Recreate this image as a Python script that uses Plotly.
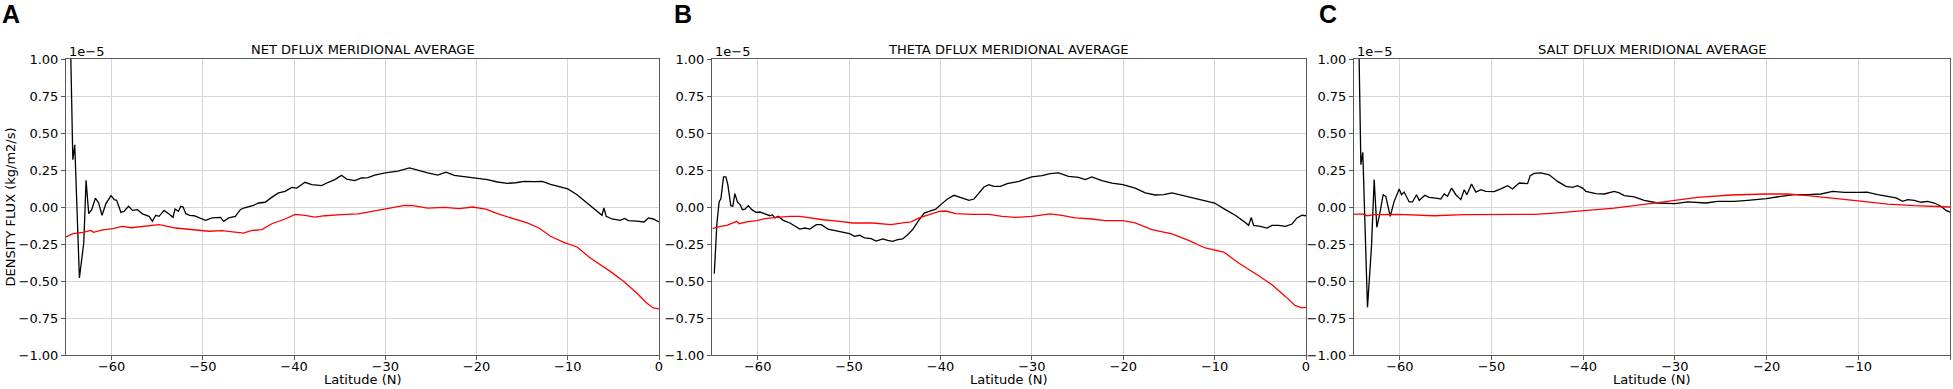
import plotly.graph_objects as go

SCALE = 1e-5  # values below are in units of 1e-5 kg/m2/s

# ---------------- Panel A : NET DFLUX ----------------
a_lat_black = [-64.6, -64.45, -64.25, -64.04, -63.53, -63.05, -62.8, -62.51, -62.18, -61.78, -61.42, -61.05,
               -60.62, -60.07, -59.71, -59.45, -58.98, -58.62, -58.15, -57.71, -57.16, -56.62, -55.89, -55.53,
               -55.16, -54.8, -54.25, -53.71, -53.27, -53.05, -52.67, -52.42, -52.16, -51.87, -51.44, -50.96,
               -50.44, -49.71, -48.98, -48.07, -47.71, -47.16, -46.44, -45.89, -45.53, -44.98, -44.45, -43.9,
               -43.18, -42.45, -41.71, -40.98, -40.25, -39.71, -38.8, -38.07, -36.98, -36.25, -35.53, -34.8,
               -34.25, -33.35, -32.62, -31.89, -31.16, -30.0, -28.62, -27.35, -26.44, -25.35, -24.25, -23.35,
               -22.44, -21.35, -20.0, -18.8, -17.71, -16.62, -15.71, -14.8, -13.71, -12.8, -11.89, -10.98,
               -10.0, -8.98, -7.89, -6.8, -6.25, -6.04, -5.78, -5.16, -4.25, -3.78, -3.35, -2.44, -1.64,
               -1.16, -0.62, 0.0]
a_black = [1.40, 1.02, 0.32, 0.42, -0.48, -0.24, 0.18, -0.045, -0.018, 0.06, 0.027, -0.056,
           0.023, 0.077, 0.05, 0.045, -0.036, -0.029, 0.005, -0.023, -0.018, -0.047, -0.063, -0.097,
           -0.056, -0.063, -0.023, -0.047, -0.07, -0.014, -0.029, 0.005, 0.0, -0.045, -0.056, -0.059,
           -0.074, -0.09, -0.074, -0.07, -0.097, -0.074, -0.063, -0.018, -0.007, 0.0, 0.011, 0.027,
           0.032, 0.065, 0.095, 0.106, 0.133, 0.128, 0.167, 0.151, 0.144, 0.167, 0.185, 0.214,
           0.189, 0.178, 0.196, 0.198, 0.216, 0.23, 0.243, 0.264, 0.248, 0.23, 0.216, 0.236,
           0.214, 0.205, 0.198, 0.185, 0.169, 0.16, 0.164, 0.173, 0.171, 0.173, 0.153, 0.14,
           0.122, 0.083, 0.027, -0.029, -0.056, -0.007, -0.063, -0.081, -0.09, -0.077, -0.092, -0.095, -0.101,
           -0.074, -0.081, -0.101]
a_lat_red = [-65.0, -64.25, -63.16, -62.44, -62.25, -62.0, -60.98, -59.89, -58.8, -57.89, -56.62, -54.8,
             -52.98, -51.16, -49.35, -47.89, -46.44, -45.53, -44.62, -43.53, -42.44, -40.98, -39.89, -38.8,
             -37.71, -36.62, -34.8, -32.98, -31.89, -30.0, -28.98, -27.89, -26.98, -25.35, -23.53, -21.89,
             -20.44, -18.98, -17.71, -16.25, -14.44, -13.16, -11.89, -10.44, -8.98, -7.53, -5.35, -3.89,
             -2.44, -1.35, -0.62, 0.0]
a_red = [-0.203, -0.18, -0.171, -0.164, -0.158, -0.171, -0.155, -0.146, -0.131, -0.14, -0.133, -0.119,
         -0.142, -0.153, -0.164, -0.16, -0.169, -0.176, -0.158, -0.153, -0.113, -0.081, -0.05, -0.056,
         -0.068, -0.059, -0.052, -0.047, -0.034, -0.014, 0.0, 0.011, 0.009, -0.007, -0.002, -0.011,
         0.0, -0.014, -0.045, -0.074, -0.108, -0.142, -0.198, -0.239, -0.27, -0.345, -0.435, -0.502,
         -0.581, -0.649, -0.682, -0.689]

# ---------------- Panel B : THETA DFLUX ----------------
b_lat_black = [-64.75, -64.46, -64.21, -64.03, -63.74, -63.48, -63.27, -62.94, -62.72, -62.5, -62.21, -61.92,
               -61.67, -61.38, -61.02, -60.65, -60.18, -59.75, -59.2, -58.66, -58.4, -58.11, -57.75, -57.2,
               -56.48, -55.93, -55.39, -54.85, -54.3, -53.58, -53.03, -52.31, -51.4, -50.67, -49.95, -49.4,
               -48.86, -48.31, -47.59, -47.04, -46.32, -45.77, -45.23, -44.68, -44.14, -43.59, -43.05, -42.32,
               -41.78, -41.23, -40.51, -39.96, -39.24, -38.51, -37.97, -37.42, -36.88, -36.33, -35.79, -35.24,
               -34.7, -34.16, -33.43, -32.7, -31.98, -31.4, -30.91, -30.0, -28.9, -27.99, -27.08, -25.99,
               -24.89, -24.16, -23.43, -22.34, -21.24, -20.04, -18.69, -17.59, -16.5, -15.58, -14.67, -13.58,
               -12.48, -11.2, -10.0, -8.83, -7.74, -6.82, -6.28, -5.99, -5.73, -5.0, -4.27, -3.72, -2.99,
               -2.26, -1.53, -0.99, -0.44, 0.0]
b_black = [-0.45, -0.108, 0.038, 0.054, 0.203, 0.203, 0.151, 0.009, 0.005, 0.09, 0.032, 0.016,
           -0.018, -0.014, 0.009, -0.018, -0.036, -0.034, -0.047, -0.059, -0.052, -0.074, -0.063, -0.09,
           -0.108, -0.126, -0.149, -0.142, -0.149, -0.119, -0.119, -0.149, -0.16, -0.169, -0.18, -0.198,
           -0.191, -0.209, -0.214, -0.23, -0.216, -0.225, -0.232, -0.221, -0.216, -0.187, -0.153, -0.086,
           -0.041, -0.029, -0.014, 0.016, 0.054, 0.079, 0.068, 0.061, 0.045, 0.054, 0.095, 0.135,
           0.151, 0.14, 0.14, 0.158, 0.167, 0.173, 0.185, 0.203, 0.212, 0.225, 0.23, 0.207,
           0.2, 0.185, 0.203, 0.178, 0.162, 0.151, 0.128, 0.095, 0.081, 0.083, 0.095, 0.079,
           0.061, 0.045, 0.027, -0.018, -0.056, -0.097, -0.124, -0.07, -0.124, -0.131, -0.142, -0.124, -0.124,
           -0.131, -0.115, -0.074, -0.056, -0.059]
b_lat_red = [-64.94, -64.1, -63.38, -62.65, -62.29, -62.03, -61.2, -60.11, -59.2, -57.93, -56.48, -55.39,
             -54.3, -52.85, -51.03, -49.58, -47.4, -45.41, -44.14, -43.23, -42.32, -41.23, -40.15, -39.42,
             -38.33, -36.52, -34.7, -33.25, -31.8, -30.0, -27.99, -26.72, -25.26, -23.43, -21.97, -20.04,
             -18.69, -16.86, -14.67, -12.85, -11.02, -9.01, -7.37, -5.18, -3.72, -2.26, -1.17, -0.44, 0.0]
b_red = [-0.146, -0.131, -0.124, -0.108, -0.097, -0.113, -0.101, -0.092, -0.079, -0.07, -0.063, -0.063,
         -0.074, -0.086, -0.097, -0.108, -0.108, -0.119, -0.108, -0.101, -0.074, -0.052, -0.029, -0.027,
         -0.045, -0.05, -0.05, -0.063, -0.07, -0.063, -0.047, -0.056, -0.074, -0.081, -0.092, -0.092,
         -0.108, -0.153, -0.182, -0.225, -0.277, -0.304, -0.378, -0.464, -0.525, -0.604, -0.667, -0.682, -0.678]

# ---------------- Panel C : SALT DFLUX ----------------
c_lat_black = [-64.6, -64.44, -64.25, -64.04, -63.53, -63.09, -62.8, -62.51, -62.18, -61.82, -61.53, -61.05,
               -60.62, -60.07, -59.82, -59.53, -58.98, -58.62, -58.18, -57.89, -57.27, -56.8, -55.89, -55.53,
               -55.16, -54.8, -54.36, -53.89, -53.35, -52.98, -52.69, -52.18, -51.71, -51.16, -50.62, -49.71,
               -48.98, -48.25, -47.71, -46.98, -46.07, -45.78, -45.35, -44.62, -43.71, -42.8, -41.89, -41.16,
               -40.62, -40.07, -39.71, -38.62, -37.71, -36.62, -36.07, -35.53, -34.44, -33.35, -31.89, -30.0,
               -28.62, -26.62, -25.35, -23.53, -22.07, -20.04, -18.44, -16.98, -15.53, -14.07, -12.8, -11.53,
               -10.0, -9.05, -7.89, -6.98, -5.89, -5.16, -4.62, -3.89, -3.16, -2.44, -1.71, -0.98, -0.44, 0.0]
c_black = [1.40, 1.0, 0.286, 0.369, -0.678, -0.266, 0.185, -0.137, -0.041, 0.083, 0.072, -0.063,
           0.038, 0.122, 0.083, 0.101, 0.034, 0.034, 0.083, 0.045, 0.079, 0.065, 0.059, 0.054,
           0.088, 0.072, 0.128, 0.083, 0.05, 0.117, 0.083, 0.155, 0.101, 0.117, 0.106, 0.104,
           0.122, 0.144, 0.122, 0.162, 0.158, 0.212, 0.227, 0.23, 0.218, 0.173, 0.14, 0.133,
           0.144, 0.128, 0.106, 0.09, 0.088, 0.106, 0.095, 0.077, 0.068, 0.045, 0.027, 0.023,
           0.034, 0.027, 0.038, 0.038, 0.045, 0.056, 0.072, 0.083, 0.083, 0.088, 0.106, 0.099,
           0.099, 0.101, 0.083, 0.072, 0.061, 0.038, 0.05, 0.045, 0.032, 0.038, 0.027, 0.005, -0.023, -0.034]
c_lat_red = [-65.0, -64.07, -63.53, -62.8, -60.25, -56.25, -52.98, -49.35, -45.35, -43.16, -40.0, -36.62,
             -34.44, -31.89, -30.0, -27.53, -23.89, -20.04, -17.71, -15.53, -12.62, -10.0, -6.8, -3.89, 0.0]
c_red = [-0.05, -0.047, -0.059, -0.052, -0.05, -0.059, -0.052, -0.05, -0.05, -0.041, -0.025, -0.007,
         0.009, 0.032, 0.045, 0.065, 0.081, 0.088, 0.088, 0.077, 0.056, 0.041, 0.02, 0.009, 0.0]

panel_titles = ["NET DFLUX MERIDIONAL AVERAGE", "THETA DFLUX MERIDIONAL AVERAGE", "SALT DFLUX MERIDIONAL AVERAGE"]
panel_letters = ["A", "B", "C"]
y_title = "DENSITY FLUX (kg/m2/s)"
x_title = "Latitude (N)"
offset_text = "1e\u22125"

y_ticks = [-1.0, -0.75, -0.5, -0.25, 0.0, 0.25, 0.5, 0.75, 1.0]
y_ticktext = ["\u22121.00", "\u22120.75", "\u22120.50", "\u22120.25", "0.00", "0.25", "0.50", "0.75", "1.00"]
x_ticks = [-60, -50, -40, -30, -20, -10, 0]
x_ticktext = ["\u221260", "\u221250", "\u221240", "\u221230", "\u221220", "\u221210", "0"]

panels = [
    (a_lat_black, a_black, a_lat_red, a_red),
    (b_lat_black, b_black, b_lat_red, b_red),
    (c_lat_black, c_black, c_lat_red, c_red),
]

W, H = 1953, 389
x_px = [(66, 659), (712, 1306), (1354, 1950)]
top_px, bot_px = 59, 355
ydom = [1 - bot_px / H, 1 - top_px / H]

FONT = "DejaVu Sans"
fig = go.Figure()
annotations = []
for i, (lb, vb, lr, vr) in enumerate(panels):
    n = "" if i == 0 else str(i + 1)
    xa, ya = "x" + n, "y" + n
    fig.add_trace(go.Scatter(x=lb, y=[v * SCALE for v in vb], mode="lines",
                             line=dict(color="black", width=1.3), xaxis=xa, yaxis=ya, showlegend=False))
    fig.add_trace(go.Scatter(x=lr, y=[v * SCALE for v in vr], mode="lines",
                             line=dict(color="#ff0000", width=1.3), xaxis=xa, yaxis=ya, showlegend=False))
    x0, x1 = x_px[i]
    common = dict(showgrid=True, gridcolor="#d6d6d6", gridwidth=1, zeroline=False,
                  showline=True, linecolor="#5a5a5a", linewidth=1, mirror=True,
                  ticks="outside", ticklen=4, tickcolor="#5a5a5a", automargin=False,
                  tickfont=dict(family=FONT, size=13, color="black"))
    fig.update_layout({
        "xaxis" + n: dict(domain=[x0 / W, x1 / W], range=[-65, 0], anchor=ya,
                          tickvals=x_ticks, ticktext=x_ticktext, ticklabelstandoff=-5, **common),
        "yaxis" + n: dict(domain=ydom, range=[-1.0 * SCALE, 1.0 * SCALE], anchor=xa,
                          tickvals=[t * SCALE for t in y_ticks], ticktext=y_ticktext, **common),
    })
    cx = (x0 + x1) / 2 / W
    annotations += [
        dict(text=panel_titles[i], x=cx, y=1 - 50 / H, xref="paper", yref="paper",
             xanchor="center", yanchor="middle", showarrow=False,
             font=dict(family=FONT, size=13, color="black")),
        dict(text=x_title, x=cx, y=1 - 379.5 / H, xref="paper", yref="paper",
             xanchor="center", yanchor="middle", showarrow=False,
             font=dict(family=FONT, size=13, color="black")),
        dict(text=offset_text, x=(x0 + 1) / W, y=1 - 51.5 / H, xref="paper", yref="paper",
             xanchor="left", yanchor="middle", showarrow=False,
             font=dict(family=FONT, size=13, color="black")),
    ]
letter_x = [0, 672, 1317]
for i, L in enumerate(panel_letters):
    annotations.append(dict(text="<b>" + L + "</b>", x=letter_x[i] / W, y=1 - 14 / H, xref="paper", yref="paper",
                            xanchor="left", yanchor="middle", showarrow=False,
                            font=dict(family="Liberation Sans", size=25, color="black")))
annotations.append(dict(text=y_title, x=9.5 / W, y=1 - 207 / H, xref="paper", yref="paper",
                        xanchor="center", yanchor="middle", showarrow=False, textangle=-90,
                        font=dict(family=FONT, size=13, color="black")))

fig.update_layout(width=W, height=H, margin=dict(l=0, r=0, t=0, b=0, autoexpand=False),
                  paper_bgcolor="white", plot_bgcolor="white",
                  annotations=annotations, showlegend=False)
fig.write_html("out.html", config={"displayModeBar": False},
               post_script="document.body.style.margin='0';document.body.style.padding='0';"
                           "document.body.style.overflow='hidden';"
                           "document.documentElement.style.overflow='hidden';")
